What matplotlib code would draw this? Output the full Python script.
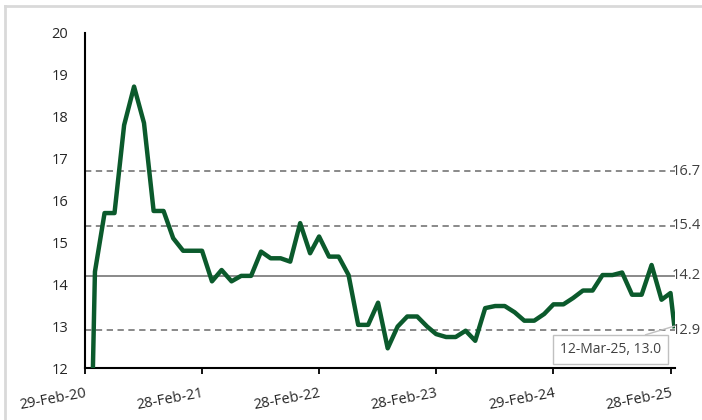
import matplotlib
matplotlib.use("Agg")
import matplotlib.pyplot as plt
import matplotlib.dates as mdates
from matplotlib.lines import Line2D
import pandas as pd

plt.rcParams['font.family'] = ['Open Sans', 'DejaVu Sans']

# month-end readings, Mar-20 .. Feb-25
month_values = [
    14.3, 15.7, 15.7, 17.8, 18.72, 17.85, 15.75, 15.75, 15.1, 14.8,
    14.8, 14.8, 14.07, 14.34, 14.07, 14.2, 14.2, 14.78, 14.62, 14.62, 14.54, 15.46,
    14.74, 15.14, 14.66, 14.66, 14.22, 13.03, 13.03, 13.56, 12.47, 12.99, 13.23, 13.23,
    12.99, 12.81, 12.74, 12.74, 12.89, 12.65, 13.43, 13.48, 13.48, 13.33, 13.13, 13.13,
    13.29, 13.52, 13.52, 13.67, 13.85, 13.85, 14.22, 14.22, 14.28, 13.75, 13.75, 14.46,
    13.63, 13.79,
]
first_date, first_value = '2020-03-23', 11.4
last_date, last_value = '2025-03-12', 13.0

# mean and standard-deviation bands
band_levels = [16.7, 15.4, 14.2, 12.9]
band_styles = ['dashed', 'dashed', 'solid', 'dashed']

tick_dates = ['2020-02-29', '2021-02-28', '2022-02-28', '2023-02-28', '2024-02-29', '2025-02-28']

dates = ([pd.Timestamp(first_date)]
         + list(pd.date_range('2020-03-31', '2025-02-28', freq='ME'))
         + [pd.Timestamp(last_date)])
values = [first_value] + month_values + [last_value]

fig = plt.figure(figsize=(7.02, 4.2), dpi=100)
ax = fig.add_axes([85 / 702, 52 / 420, 590 / 702, 335 / 420])

# light outer frame (top and left edges)
frame_col = '#d9d9d9'
fig.add_artist(Line2D([5 / 702, 1.0], [1 - 6 / 420, 1 - 6 / 420], color=frame_col, lw=2,
                      transform=fig.transFigure))
fig.add_artist(Line2D([5 / 702, 5 / 702], [0.0, 1 - 6 / 420], color=frame_col, lw=2,
                      transform=fig.transFigure))

for lvl, style in zip(band_levels, band_styles):
    if style == 'solid':
        ax.axhline(lvl, color='#808080', lw=1.3, zorder=1)
    else:
        ax.axhline(lvl, color='#808080', lw=1.3, linestyle=(0, (3.5, 2.5)), zorder=1)
    ax.text(0.995, lvl, f'{lvl:.1f}', transform=ax.get_yaxis_transform(),
            ha='left', va='center', fontsize=10.5, color='#404040')

ax.plot(dates, values, color='#0b5a2c', lw=3.2, solid_joinstyle='round', zorder=3)

ax.set_ylim(12, 20)
ax.set_yticks(range(12, 21))
ax.set_xlim(pd.Timestamp('2020-02-29'), pd.Timestamp('2025-03-14'))
ax.set_xticks([pd.Timestamp(d) for d in tick_dates])
ax.xaxis.set_major_formatter(mdates.DateFormatter('%d-%b-%y'))

for side in ['top', 'right']:
    ax.spines[side].set_visible(False)
for side in ['left', 'bottom']:
    ax.spines[side].set_linewidth(1.5)
    ax.spines[side].set_color('black')

ax.tick_params(axis='y', length=0, pad=12, labelsize=10.5, labelcolor='#262626')
ax.tick_params(axis='x', length=4, width=1.3, direction='out', pad=9,
               labelsize=10.5, labelcolor='#262626')
for lbl in ax.get_xticklabels():
    lbl.set_rotation(10.5)
    lbl.set_ha('right')
    lbl.set_va('top')
    lbl.set_rotation_mode('anchor')

ax.annotate(f'{pd.Timestamp(last_date):%d-%b-%y}, {last_value:.1f}',
            xy=(pd.Timestamp(last_date), last_value),
            xytext=(-46, -17), textcoords='offset points',
            ha='center', va='center', fontsize=10, color='#404040',
            bbox=dict(boxstyle='square,pad=0.5', fc='white', ec='#c0c0c0', lw=1),
            arrowprops=dict(arrowstyle='-', color='#c0c0c0', lw=1,
                            relpos=(0.6, 1.0), shrinkA=0, shrinkB=0),
            zorder=4)

fig.savefig('out.png', dpi=100)
